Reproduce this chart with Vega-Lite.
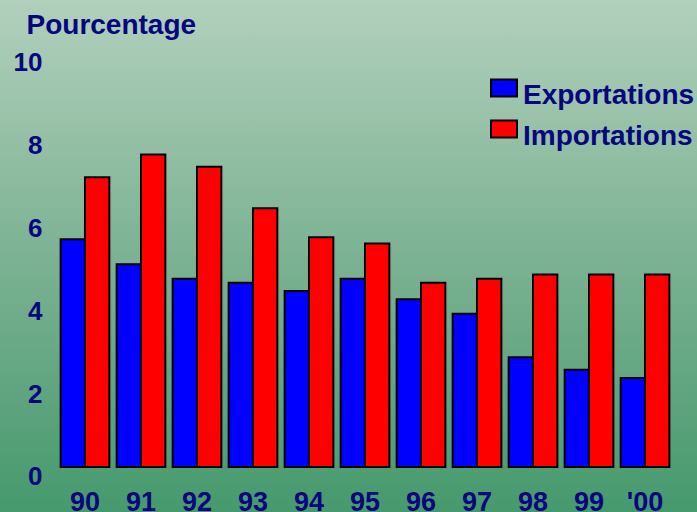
{
  "$schema": "https://vega.github.io/schema/vega-lite/v6.json",
  "width": 697,
  "height": 512,
  "autosize": {"type": "none"},
  "padding": 0,
  "background": "#7bb193",
  "config": {
    "view": {
      "stroke": null,
      "fill": {
        "gradient": "linear",
        "x1": 0, "y1": 0, "x2": 0, "y2": 1,
        "stops": [
          {"offset": 0, "color": "#b2d0bc"},
          {"offset": 0.5, "color": "#7cb293"},
          {"offset": 1, "color": "#46996d"}
        ]
      }
    },
    "font": "Liberation Sans"
  },
  "data": {
    "values": [
      {"year": "90", "type": "Exportations", "value": 5.5},
      {"year": "90", "type": "Importations", "value": 7.0},
      {"year": "91", "type": "Exportations", "value": 4.9},
      {"year": "91", "type": "Importations", "value": 7.55},
      {"year": "92", "type": "Exportations", "value": 4.55},
      {"year": "92", "type": "Importations", "value": 7.25},
      {"year": "93", "type": "Exportations", "value": 4.45},
      {"year": "93", "type": "Importations", "value": 6.25},
      {"year": "94", "type": "Exportations", "value": 4.25},
      {"year": "94", "type": "Importations", "value": 5.55},
      {"year": "95", "type": "Exportations", "value": 4.55},
      {"year": "95", "type": "Importations", "value": 5.4},
      {"year": "96", "type": "Exportations", "value": 4.05},
      {"year": "96", "type": "Importations", "value": 4.45},
      {"year": "97", "type": "Exportations", "value": 3.7},
      {"year": "97", "type": "Importations", "value": 4.55},
      {"year": "98", "type": "Exportations", "value": 2.65},
      {"year": "98", "type": "Importations", "value": 4.65},
      {"year": "99", "type": "Exportations", "value": 2.35},
      {"year": "99", "type": "Importations", "value": 4.65},
      {"year": "'00", "type": "Exportations", "value": 2.15},
      {"year": "'00", "type": "Importations", "value": 4.65}
    ]
  },
  "mark": {"type": "bar", "stroke": "black", "strokeWidth": 2},
  "encoding": {
    "x": {
      "field": "year",
      "type": "nominal",
      "sort": null,
      "scale": {"paddingInner": 0.13, "paddingOuter": 0.788, "align": 0.687},
      "axis": {
        "title": null,
        "orient": "bottom",
        "offset": -45,
        "domain": false,
        "ticks": false,
        "tickSize": 0,
        "labelPadding": 22,
        "labelBaseline": "top",
        "labelAngle": 0,
        "labelFont": "Liberation Sans",
        "labelFontSize": 27,
        "labelFontWeight": "bold",
        "labelColor": "#06067f"
      }
    },
    "xOffset": {"field": "type", "type": "nominal", "scale": {"paddingInner": 0, "paddingOuter": 0}},
    "y": {
      "field": "value",
      "type": "quantitative",
      "scale": {"domain": [-1.087, 11.28], "nice": false, "zero": false},
      "axis": {
        "title": "Pourcentage",
        "titleAngle": 0,
        "titleAlign": "left",
        "titleBaseline": "alphabetic",
        "titleX": -24,
        "titleY": 33,
        "titleFont": "Liberation Sans",
        "titleFontSize": 28,
        "titleFontWeight": "bold",
        "titleColor": "#06067f",
        "orient": "left",
        "offset": -50,
        "values": [0, 2, 4, 6, 8, 10],
        "grid": false,
        "domain": false,
        "ticks": false,
        "tickSize": 0,
        "labelPadding": 8,
        "labelOffset": 10,
        "labelFont": "Liberation Sans",
        "labelFontSize": 26,
        "labelFontWeight": "bold",
        "labelColor": "#06067f"
      }
    },
    "color": {
      "field": "type",
      "type": "nominal",
      "scale": {"domain": ["Exportations", "Importations"], "range": ["#0000ff", "#ff0000"]},
      "legend": {
        "title": null,
        "orient": "none",
        "legendX": 490,
        "legendY": 82,
        "symbolType": "M-1,-1.265H1V0.035H-1Z",
        "symbolSize": 676,
        "symbolStrokeColor": "black",
        "symbolStrokeWidth": 2,
        "symbolOpacity": 1,
        "labelFont": "Liberation Sans",
        "labelFontSize": 28,
        "labelFontWeight": "bold",
        "labelColor": "#06067f",
        "labelOffset": 5,
        "labelLimit": 300,
        "rowPadding": 6
      }
    }
  }
}
